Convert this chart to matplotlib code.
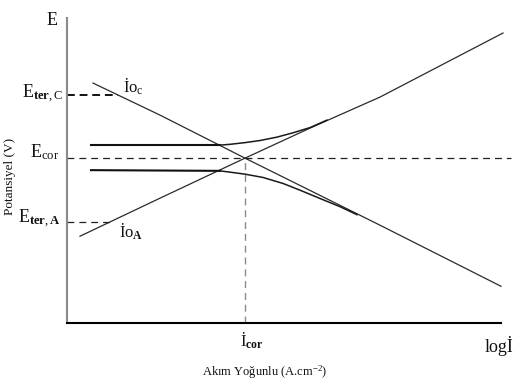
import matplotlib
matplotlib.use("Agg")
import matplotlib.pyplot as plt

plt.rcParams['font.family'] = ['Liberation Serif', 'DejaVu Serif']
plt.rcParams['mathtext.fontset'] = 'custom'
plt.rcParams['mathtext.rm'] = 'Liberation Serif'
plt.rcParams['mathtext.it'] = 'Liberation Serif:italic'
plt.rcParams['mathtext.bf'] = 'Liberation Serif:bold'

# Data (log I on x, potential E on y, arbitrary units)
cath_x = [26, 93, 178, 313, 434]
cath_y = [240, 208, 165, 98, 37]
anod_x = [13, 93, 178, 243, 313, 436]
anod_y = [87, 125, 165, 195, 226, 290]
upper_x = [24, 153, 163, 178, 193, 210, 226, 243, 260]
upper_y = [178, 178, 178.8, 180.5, 182.6, 186, 190.3, 195.5, 203]
lower_x = [24, 153, 163, 178, 196, 216, 233, 253, 273, 290]
lower_y = [153, 152.3, 151, 149, 145.7, 139.7, 133, 124.7, 116.5, 108.5]
E_cor = 165
I_cor = 178
E_ter_C = 228
E_ter_A = 101.3
E_ter_C_end = 51
E_ter_A_end = 43
x_max = 434
y_max = 305

fig = plt.figure(figsize=(5.14, 3.86), dpi=100)
ax = fig.add_axes([67/514, (386-323.3)/386, 434/514, 305.3/386])
ax.set_xlim(0, x_max)
ax.set_ylim(0, y_max)
for s in ['top', 'right']:
    ax.spines[s].set_visible(False)
ax.spines['left'].set_color('#8a8a8a')
ax.spines['left'].set_linewidth(1.5)
ax.spines['bottom'].set_color('black')
ax.spines['bottom'].set_linewidth(1.5)
ax.set_xticks([])
ax.set_yticks([])

# Tafel lines
ax.plot(cath_x, cath_y, color='#2a2a2a', lw=0.9, clip_on=False)
ax.plot(anod_x, anod_y, color='#2a2a2a', lw=0.9, clip_on=False)
# Polarization curves: horizontal part thicker, curved part thinner
ax.plot(upper_x[:2], upper_y[:2], color='#111111', lw=1.5, clip_on=False)
ax.plot(lower_x[:2], lower_y[:2], color='#111111', lw=1.5, clip_on=False)
ax.plot(upper_x[1:], upper_y[1:], color='#1a1a1a', lw=1.1, clip_on=False,
        solid_joinstyle='round')
ax.plot(lower_x[1:], lower_y[1:], color='#1a1a1a', lw=1.1, clip_on=False,
        solid_joinstyle='round')

# Dashed reference lines
ax.plot([0, 444], [E_cor, E_cor], color='#222222', lw=0.9,
        linestyle=(0, (5.5, 4)), clip_on=False)
ax.plot([0, E_ter_C_end], [E_ter_C, E_ter_C], color='#111111', lw=1.4,
        linestyle=(0, (4, 2.5)), clip_on=False)
ax.plot([0, E_ter_A_end], [E_ter_A, E_ter_A], color='#222222', lw=0.9,
        linestyle=(0, (5.5, 4)), clip_on=False)
ax.plot([I_cor, I_cor], [0, E_cor], color='#8a8a8a', lw=1.0,
        linestyle=(0, (5, 3.5)), clip_on=False)

# Labels
kw = dict(clip_on=False, color='#111111')
ax.text(-15, 303, "E", fontsize=13, ha='center', va='center', **kw)
ax.text(-4, 229, r"E$_{\mathbf{ter},\mathrm{C}}$", fontsize=13, ha='right', va='center', **kw)
ax.text(-8, 171, r"E$_{\mathrm{cor}}$", fontsize=13, ha='right', va='center', **kw)
ax.text(-6, 104, r"E$_{\mathbf{ter},\mathbf{A}}$", fontsize=13, ha='right', va='center', **kw)
ax.text(56, 236, r"İo$_{\mathrm{c}}$", fontsize=12, ha='left', va='center', **kw)
ax.text(52, 91, r"İo$_{\mathbf{A}}$", fontsize=12, ha='left', va='center', **kw)
ax.text(173, -17, r"İ$_{\mathbf{cor}}$", fontsize=12, ha='left', va='center', **kw)
ax.text(418, -23, "logİ", fontsize=13, ha='left', va='center', **kw)

fig.text(265/514, 1 - 372/386, "Akım Yoğunlu (A.cm$^{-2}$)", fontsize=9,
         ha='center', va='center', color='#111111')
fig.text(10/514, 1 - 176/386, "Potansiyel (V)", fontsize=9.5, rotation=90,
         ha='center', va='center', color='#111111')

fig.savefig("out.png", dpi=100)
